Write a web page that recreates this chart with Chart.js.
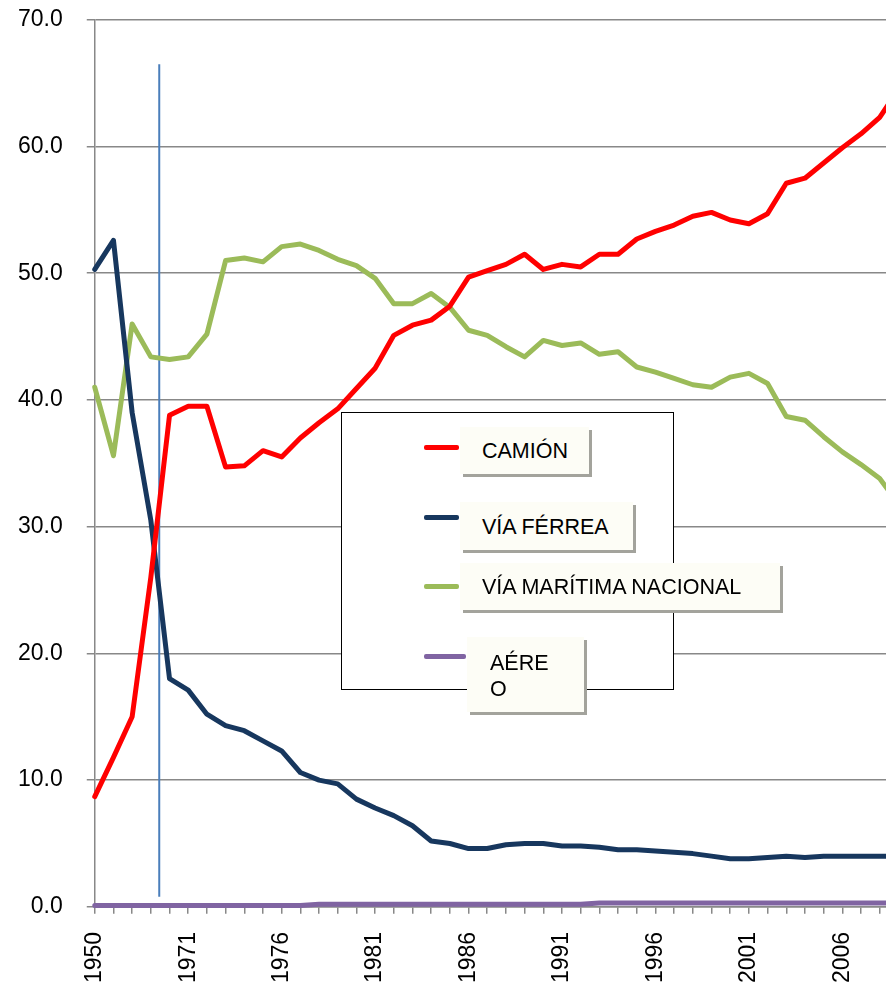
<!DOCTYPE html>
<html>
<head>
<meta charset="utf-8">
<script src="https://cdn.jsdelivr.net/npm/chart.js@4.4.1/dist/chart.umd.min.js"></script>
<style>
  html, body { margin: 0; padding: 0; background: #fff; overflow: hidden; }
  #wrap { position: relative; width: 886px; height: 985px; overflow: hidden; }
  #chart { position: absolute; left: 0; top: 0; }
  .legendBox { position: absolute; left: 341px; top: 412px; width: 333px; height: 278px;
    border: 1.5px solid #000; background: #fff; box-sizing: border-box; }
  .lab { position: absolute; background: #fdfdf6; box-shadow: 3px 3px 0 #a3a39c;
    font: 21.5px "Liberation Sans", Arial, sans-serif; color: #000; box-sizing: border-box; }
  .swatch { position: absolute; height: 4.5px; border-radius: 2px; }
</style>
</head>
<body>
<div id="wrap">
  <canvas id="chart" width="906" height="985"></canvas>
  <div class="legendBox"></div>
</div>
<script>
// categories (first five are five-year steps, then yearly)
const years = ['1950', '1955', '1960', '1965', '1970',
  '1971', '1972', '1973', '1974', '1975', '1976', '1977', '1978', '1979', '1980',
  '1981', '1982', '1983', '1984', '1985', '1986', '1987', '1988', '1989', '1990',
  '1991', '1992', '1993', '1994', '1995', '1996', '1997', '1998', '1999', '2000',
  '2001', '2002', '2003', '2004', '2005', '2006', '2007', '2008', '2009'];

const camion = [8.7, 11.8, 15.0, 26.0, 38.8, 39.5, 39.5, 34.7, 34.8, 36.0,
  35.5, 37.0, 38.2, 39.3, 40.9, 42.5, 45.1, 45.9, 46.3, 47.4,
  49.7, 50.2, 50.7, 51.5, 50.3, 50.7, 50.5, 51.5, 51.5, 52.7,
  53.3, 53.8, 54.5, 54.8, 54.2, 53.9, 54.7, 57.1, 57.5, 58.7,
  59.9, 61.0, 62.3, 64.5];

const viaFerrea = [50.3, 52.6, 39.0, 30.5, 18.0, 17.1, 15.2, 14.3, 13.9, 13.1,
  12.3, 10.6, 10.0, 9.7, 8.5, 7.8, 7.2, 6.4, 5.2, 5.0,
  4.6, 4.6, 4.9, 5.0, 5.0, 4.8, 4.8, 4.7, 4.5, 4.5,
  4.4, 4.3, 4.2, 4.0, 3.8, 3.8, 3.9, 4.0, 3.9, 4.0,
  4.0, 4.0, 4.0, 4.0];

const viaMaritima = [41.0, 35.6, 46.0, 43.4, 43.2, 43.4, 45.2, 51.0, 51.2, 50.9,
  52.1, 52.3, 51.8, 51.1, 50.6, 49.6, 47.6, 47.6, 48.4, 47.3,
  45.5, 45.1, 44.2, 43.4, 44.7, 44.3, 44.5, 43.6, 43.8, 42.6,
  42.2, 41.7, 41.2, 41.0, 41.8, 42.1, 41.3, 38.7, 38.4, 37.1,
  35.9, 34.9, 33.8, 31.8];

const aereo = [0.1, 0.1, 0.1, 0.1, 0.1, 0.1, 0.1, 0.1, 0.1, 0.1,
  0.1, 0.1, 0.2, 0.2, 0.2, 0.2, 0.2, 0.2, 0.2, 0.2,
  0.2, 0.2, 0.2, 0.2, 0.2, 0.2, 0.2, 0.3, 0.3, 0.3,
  0.3, 0.3, 0.3, 0.3, 0.3, 0.3, 0.3, 0.3, 0.3, 0.3,
  0.3, 0.3, 0.3, 0.3];

const yMin = 0, yMax = 70, yStep = 10;
const labelEvery = 5;

// the hand drawn blue marker line (category position, value range)
const marker = { at: 3.45, from: 0.8, to: 66.5 };

// where the plot area sits in the page (the right end runs past the edge)
const plotBox = { left: 95, top: 20, right: 899, bottom: 907 };

const gray = '#888888';
const tickFont = { family: 'Liberation Sans', size: 23 };

function serie(label, data, color) {
  return {
    label: label, data: data, borderColor: color, backgroundColor: color,
    borderWidth: 5, pointRadius: 0, tension: 0,
    borderJoinStyle: 'round', borderCapStyle: 'round', clip: false
  };
}

const markerLine = {
  id: 'markerLine',
  beforeDatasetsDraw(chart) {
    const ctx = chart.ctx;
    const x = chart.scales.x.getPixelForValue(marker.at);
    ctx.save();
    ctx.strokeStyle = '#4a7ebb';
    ctx.lineWidth = 2;
    ctx.beginPath();
    ctx.moveTo(x, chart.scales.y.getPixelForValue(marker.to));
    ctx.lineTo(x, chart.scales.y.getPixelForValue(marker.from));
    ctx.stroke();
    ctx.restore();
  }
};

function makeChart(canvas) {
  return new Chart(canvas, {
    type: 'line',
    data: {
      labels: years,
      datasets: [
        serie('CAMIÓN', camion, '#ff0000'),
        serie('VÍA FÉRREA', viaFerrea, '#17375e'),
        serie('VÍA MARÍTIMA NACIONAL', viaMaritima, '#9bbb59'),
        serie('AÉREO', aereo, '#8064a2')
      ]
    },
    options: {
      responsive: false,
      maintainAspectRatio: false,
      animation: false,
      layout: { padding: 0 },
      plugins: { legend: { display: false }, tooltip: { enabled: false } },
      scales: {
        x: {
          offset: false,
          grid: { drawOnChartArea: false, tickLength: 7, color: gray, lineWidth: 1.5 },
          border: { color: gray, width: 1.5 },
          ticks: {
            autoSkip: false, minRotation: 90, maxRotation: 90, padding: 18,
            color: '#000', font: tickFont,
            callback: function (v, i) { return i % labelEvery === 0 ? this.getLabelForValue(v) : ''; }
          }
        },
        y: {
          min: yMin, max: yMax,
          grid: { color: gray, lineWidth: 1.5, tickLength: 8 },
          border: { color: gray, width: 1.5 },
          ticks: { stepSize: yStep, padding: 24, color: '#000', font: tickFont,
            callback: v => v.toFixed(1) }
        }
      }
    },
    plugins: [markerLine]
  });
}

// first pass measures the auto padding, second pass sizes the canvas so the
// plot area lands on plotBox
const canvas = document.getElementById('chart');
let chart = makeChart(canvas);
const a = chart.chartArea;
const newW = Math.round(chart.width + (plotBox.right - plotBox.left) - (a.right - a.left));
const newH = Math.round(chart.height + (plotBox.bottom - plotBox.top) - (a.bottom - a.top));
const shiftX = plotBox.left - a.left;
const shiftY = plotBox.top - a.top;
chart.destroy();
canvas.width = newW;
canvas.height = newH;
canvas.style.width = newW + 'px';
canvas.style.height = newH + 'px';
canvas.style.left = shiftX + 'px';
canvas.style.top = shiftY + 'px';
chart = makeChart(canvas);

// legend, laid out like the original hand-placed boxes
const legendSpots = [
  { sy: 447, sw: 35, box: [460, 427, 129, 47], pad: [2, 22] },
  { sy: 517, sw: 35, box: [460, 502, 173, 48], pad: [2, 22] },
  { sy: 586, sw: 35, box: [460, 563, 320, 47], pad: [1, 22] },
  { sy: 656, sw: 42, box: [467, 637, 117, 75], pad: [13, 23] }
];
const wrap = document.getElementById('wrap');
chart.data.datasets.forEach((ds, i) => {
  const s = legendSpots[i];
  const sw = document.createElement('div');
  sw.className = 'swatch';
  sw.style.left = '424px';
  sw.style.top = (s.sy - 2) + 'px';
  sw.style.width = s.sw + 'px';
  sw.style.background = ds.borderColor;
  wrap.appendChild(sw);

  const lab = document.createElement('div');
  lab.className = 'lab';
  lab.style.left = s.box[0] + 'px';
  lab.style.top = s.box[1] + 'px';
  lab.style.width = s.box[2] + 'px';
  lab.style.height = s.box[3] + 'px';
  lab.style.paddingLeft = s.pad[1] + 'px';
  lab.style.paddingTop = s.pad[0] + 'px';
  if (i === 3) {
    lab.style.lineHeight = '26px';
    lab.style.paddingRight = '28px';
    lab.style.wordBreak = 'break-all';
  } else {
    lab.style.lineHeight = (s.box[3] - s.pad[0]) + 'px';
    lab.style.whiteSpace = 'nowrap';
  }
  lab.textContent = ds.label;
  wrap.appendChild(lab);
});
</script>
</body>
</html>
